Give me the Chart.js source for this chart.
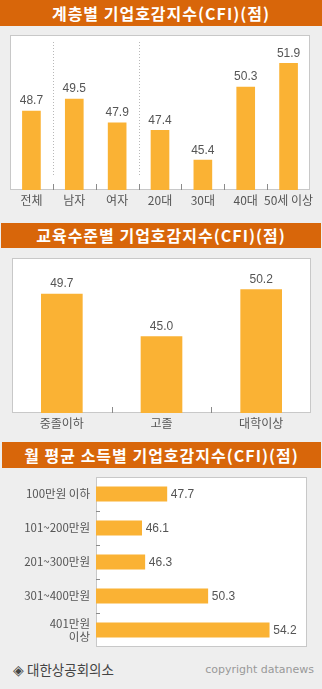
<!DOCTYPE html>
<html><head><meta charset="utf-8">
<script src="https://cdn.jsdelivr.net/npm/chart.js@4/dist/chart.umd.min.js"></script>
<style>
html,body{margin:0;padding:0;background:#eeeeee;width:322px;height:689px;overflow:hidden;font-family:"Noto Sans CJK KR",sans-serif;}
.hdr{position:absolute;background:#d8660a;color:#fff;font-weight:bold;font-size:16px;text-align:center;letter-spacing:1px;white-space:nowrap;}
.box{position:absolute;}
.foot{position:absolute;white-space:nowrap;}
</style></head><body>
<div class="hdr" style="left:0;top:0;width:322px;height:26px;line-height:26px;">계층별 기업호감지수(CFI)(점)</div>
<div class="box" style="left:0;top:30px;width:322px;height:185px;"><canvas id="c1"></canvas></div>
<div class="hdr" style="left:1px;top:223px;width:320px;height:25px;line-height:25px;">교육수준별 기업호감지수(CFI)(점)</div>
<div class="box" style="left:0;top:250px;width:322px;height:185px;"><canvas id="c2"></canvas></div>
<div class="hdr" style="left:2px;top:442px;width:319px;height:26px;line-height:26px;">월 평균 소득별 기업호감지수(CFI)(점)</div>
<div class="box" style="left:0;top:470px;width:322px;height:180px;"><canvas id="c3"></canvas></div>
<div class="foot" style="left:13px;top:660px;font-size:13.5px;color:#444;line-height:18px;">◈ 대한상공회의소</div>
<div class="foot" style="right:8px;top:661px;font-size:11px;color:#999;line-height:18px;font-family:'DejaVu Sans',sans-serif;">copyright datanews</div>
<script>
const cat1 = ['전체','남자','여자','20대','30대','40대','50세 이상'];
const val1 = [48.7,49.5,47.9,47.4,45.4,50.3,51.9];
const cat2 = ['중졸이하','고졸','대학이상'];
const val2 = [49.7,45.0,50.2];
const cat3 = ['100만원 이하','101~200만원','201~300만원','301~400만원',['401만원','이상']];
const val3 = [47.7,46.1,46.3,50.3,54.2];

const BAR = '#fab234';
const LABEL_FONT = {family:'"Noto Sans CJK KR", sans-serif', size:12};
const NUM_FONT = '12px "Liberation Sans", sans-serif';

const panelPlugin = {
  id:'panel',
  beforeDraw(chart){
    const {ctx, chartArea:a} = chart;
    ctx.save();
    ctx.fillStyle='#fff';
    ctx.fillRect(a.left,a.top,a.right-a.left,a.bottom-a.top);
    ctx.strokeStyle='#c8c8c8'; ctx.lineWidth=1;
    ctx.strokeRect(a.left+0.5,a.top+0.5,a.right-a.left-1,a.bottom-a.top-1);
    ctx.restore();
  },
  afterDatasetsDraw(chart, args, opts){
    const {ctx, chartArea:a} = chart;
    const horiz = chart.options.indexAxis === 'y';
    const sc = horiz ? chart.scales.y : chart.scales.x;
    const n = chart.data.labels.length;
    ctx.save();
    ctx.strokeStyle='#8a8a8a'; ctx.lineWidth=1;
    for(let i=1;i<n;i++){
      const p = Math.round((sc.getPixelForValue(i-1)+sc.getPixelForValue(i))/2)+0.5;
      ctx.beginPath();
      if(horiz){ ctx.moveTo(a.left, p); ctx.lineTo(a.left+4, p); }
      else { ctx.moveTo(p, a.bottom); ctx.lineTo(p, a.bottom-6); }
      ctx.stroke();
    }
    (opts.dotted||[]).forEach(i=>{
      const p = Math.round((sc.getPixelForValue(i)+sc.getPixelForValue(i+1))/2)+0.5;
      ctx.strokeStyle='#b8b8b8';
      ctx.setLineDash([1,2]);
      ctx.beginPath(); ctx.moveTo(p, a.top+7); ctx.lineTo(p, a.bottom-13); ctx.stroke();
      ctx.setLineDash([]);
    });
    const meta = chart.getDatasetMeta(0);
    const vals = chart.data.datasets[0].data;
    ctx.fillStyle='#555'; ctx.font=NUM_FONT; ctx.textBaseline='middle';
    meta.data.forEach((el,i)=>{
      const t = vals[i].toFixed(1);
      if(horiz){ ctx.textAlign='left'; ctx.fillText(t, el.x+4, el.y+1); }
      else { ctx.textAlign='center'; ctx.fillText(t, el.x, el.y-10); }
    });
    ctx.restore();
  }
};

Chart.defaults.animation = false;
Chart.defaults.maintainAspectRatio = false;
Chart.defaults.responsive = true;
Chart.defaults.plugins.legend.display = false;
Chart.defaults.plugins.tooltip.enabled = false;

function vChart(id, labels, data, min, max, thick, pad, axisH, dotted){
  return new Chart(document.getElementById(id), {
    type:'bar',
    data:{labels, datasets:[{data, backgroundColor:BAR, barThickness:thick, borderWidth:0}]},
    options:{
      layout:{padding:pad},
      plugins:{panel:{dotted}},
      scales:{
        x:{grid:{display:false, drawTicks:false}, border:{display:false},
           ticks:{color:'#555', font:LABEL_FONT, padding:3, autoSkip:false, maxRotation:0},
           afterFit(s){ s.height = axisH; s.paddingLeft = 0; s.paddingRight = 0; }},
        y:{display:false, min, max}
      }
    },
    plugins:[panelPlugin]
  });
}

vChart('c1', cat1, val1, 43.4, 53.8, 18, {left:10,right:12,top:5,bottom:0}, 25, [0,2]);
vChart('c2', cat2, val2, 36.56, 53.7, 41, {left:12,right:11,top:8,bottom:0}, 22, []);

new Chart(document.getElementById('c3'), {
  type:'bar',
  data:{labels:cat3, datasets:[{data:val3, backgroundColor:BAR, barThickness:14.5, borderWidth:0}]},
  options:{
    indexAxis:'y',
    layout:{padding:{left:0,right:15,top:7,bottom:3}},
    plugins:{panel:{dotted:[]}},
    scales:{
      x:{display:false, min:43.2, max:56.6},
      y:{grid:{display:false, drawTicks:false}, border:{display:false},
         ticks:{color:'#555', font:{family:'"Noto Sans CJK KR", sans-serif', size:11.5, lineHeight:1.15}, padding:6, autoSkip:false},
         afterFit(s){ s.width = 96; s.paddingTop = 0; s.paddingBottom = 0; }}
    }
  },
  plugins:[panelPlugin]
});
</script>
</body></html>
